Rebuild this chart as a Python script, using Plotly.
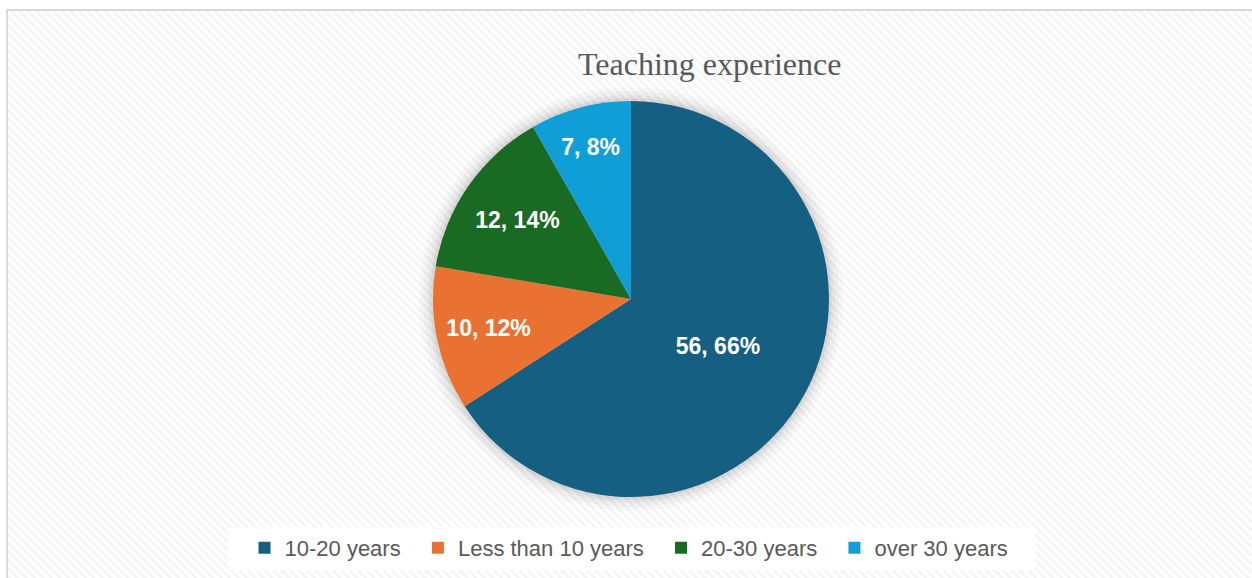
import plotly.graph_objects as go

categories = ["10-20 years", "Less than 10 years", "20-30 years", "over 30 years"]
counts = [56, 10, 12, 7]
colors = ["#156082", "#E97132", "#196B24", "#0F9ED5"]
title_text = "Teaching experience"

W, H = 1252, 578
cx, cy, R = 631, 299, 198

fig = go.Figure()

# hatched chart-area background (decoration)
fig.add_trace(go.Scatter(
    x=[7, W + 10, W + 10, 7, 7], y=[10, 10, H + 10, H + 10, 10],
    mode="lines", line=dict(width=0), fill="toself",
    fillcolor="white",
    fillpattern=dict(shape="\\", size=6, solidity=0.5, fgcolor="#ebebeb", bgcolor="#ffffff"),
    hoverinfo="skip", showlegend=False, xaxis="x", yaxis="y",
))

# soft shadow around the pie
for k, op in [(14, 0.025), (10, 0.03), (6, 0.04), (3, 0.05)]:
    r = R + k
    fig.add_trace(go.Pie(
        values=[1], marker=dict(colors=["rgba(0,0,0,%s)" % op], line=dict(width=0)),
        textinfo="none", hoverinfo="skip", showlegend=False, sort=False,
        domain=dict(x=[(cx - r) / W, (cx + r) / W], y=[(H - cy - r) / H, (H - cy + r) / H]),
    ))

fig.add_trace(go.Pie(
    labels=[c + "\u00a0\u00a0" for c in categories], values=counts,
    marker=dict(colors=colors, line=dict(width=0)),
    sort=False, direction="clockwise", rotation=0,
    texttemplate="%{value}, %{percent:.0%}",
    textposition="inside", insidetextorientation="horizontal",
    textfont=dict(family="Liberation Sans, Arial, sans-serif", size=23, color="white", weight="bold"),
    domain=dict(x=[(cx - R) / W, (cx + R) / W], y=[(H - cy - R) / H, (H - cy + R) / H]),
    hoverinfo="label+value+percent",
))

fig.update_layout(
    width=W, height=H,
    margin=dict(l=0, r=0, t=0, b=0),
    paper_bgcolor="white", plot_bgcolor="rgba(0,0,0,0)",
    xaxis=dict(range=[0, W], domain=[0, 1], visible=False, fixedrange=True),
    yaxis=dict(range=[H, 0], domain=[0, 1], visible=False, fixedrange=True),
    showlegend=True,
    legend=dict(
        orientation="h", x=(cx + 4) / W, xanchor="center", y=1 - 527 / H, yanchor="top",
        bgcolor="rgba(0,0,0,0)",
        font=dict(family="Liberation Sans, Arial, sans-serif", size=22, color="#595959"),
        traceorder="normal",
    ),
    shapes=[
        dict(type="rect", xref="x", yref="y", x0=7, y0=10, x1=W + 10, y1=H + 10,
             line=dict(color="#d9d9d9", width=2), fillcolor="rgba(0,0,0,0)", layer="above"),
        dict(type="rect", xref="x", yref="y", x0=228, y0=527, x1=1035, y1=570,
             line=dict(width=0), fillcolor="white", layer="above"),
    ],
    annotations=[
        dict(text=title_text, xref="x", yref="y", x=709, y=64, showarrow=False,
             xanchor="center", yanchor="middle",
             font=dict(family="Liberation Serif, Times New Roman, serif", size=32, color="#595959")),
    ],
)

fig.write_html("out.html", config={"displayModeBar": False},
               post_script="document.body.style.margin='0px';document.body.style.overflow='hidden';")
